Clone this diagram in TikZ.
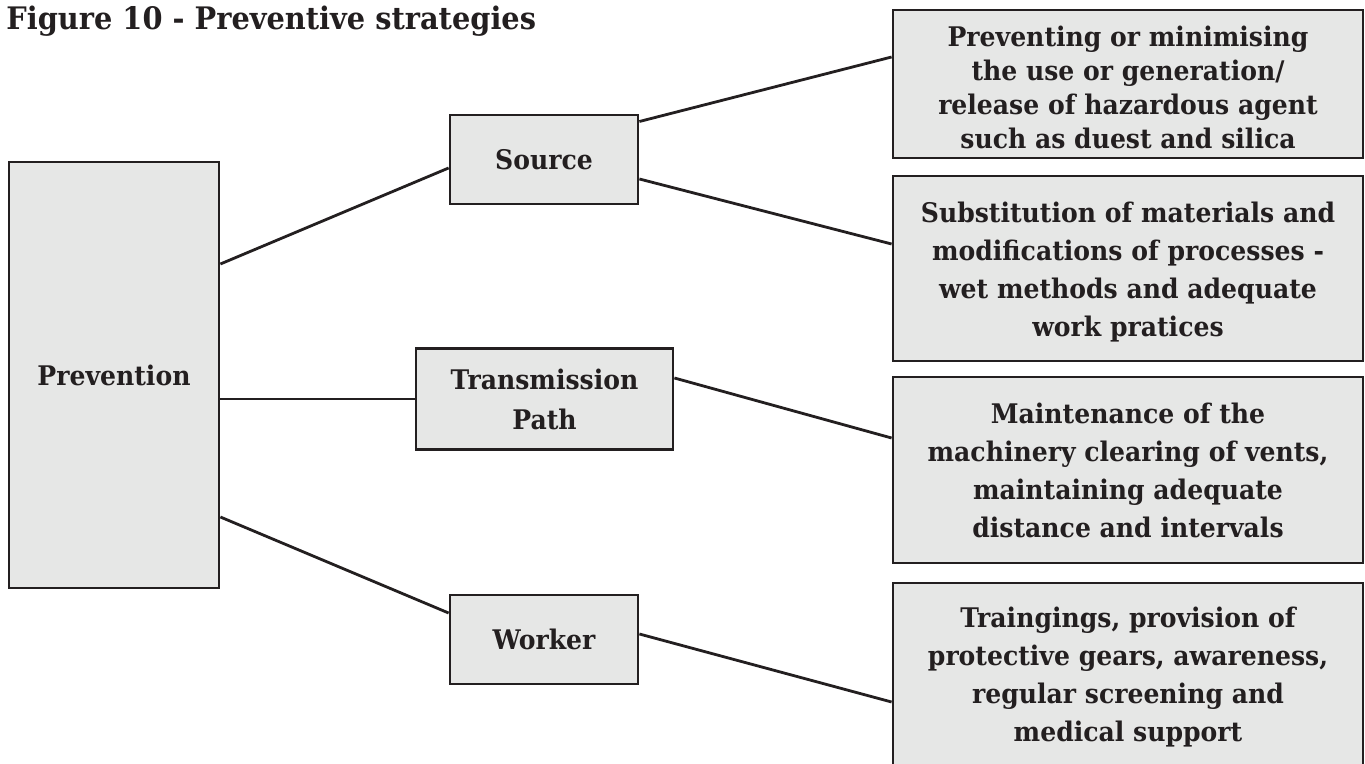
\documentclass[tikz,border=0pt]{standalone}
\usepackage{fontspec}
\setmainfont{DejaVu Serif}[FakeStretch=0.93]
\usetikzlibrary{positioning}
\definecolor{boxgray}{HTML}{E6E7E6}
\definecolor{inkdark}{HTML}{231F20}
\newcommand{\topgap}[1]{\rule{0pt}{#1}}
\tikzstyle{branch} = [rectangle, draw=inkdark, line width=1.4pt, fill=boxgray, text=inkdark, inner sep=0pt, align=center, font=\bfseries\fontsize{13.5}{20}\selectfont]
\tikzstyle{detail} = [branch, minimum width=235pt, minimum height=92.5pt, font=\bfseries\fontsize{13.5}{19}\selectfont]
\tikzstyle{link} = [draw=inkdark, line width=1.4pt]

\begin{document}
\begin{tikzpicture}[x=0.5pt, y=-0.5pt]
  \useasboundingbox (0,0) rectangle (1365,764);
  \clip (0,0) rectangle (1365,764);
  \node (title) [anchor=base west, inner sep=0pt, text=inkdark, font=\bfseries\fontsize{15.5}{18}\selectfont] at (6,30) {Figure 10 - Preventive strategies};

  % main branches
  \node (prevention) [branch, minimum width=105pt, minimum height=213pt] at (114,375) {Prevention};
  \node (source) [branch, minimum width=94pt, minimum height=44.5pt] at (544,159.5) {Source};
  \node (path) [branch, minimum width=128.5pt, minimum height=50.5pt] at (544.5,399) {Transmission\\Path};
  \node (worker) [branch, minimum width=94pt, minimum height=44.5pt] at (544,639.5) {Worker};

  % measures
  \node (minimise) [detail, minimum height=74pt, font=\bfseries\fontsize{13.5}{17}\selectfont] at (1128,84) {\topgap{14pt}Preventing or minimising\\the use or generation/\\release of hazardous agent\\such as duest and silica};
  \node (substitute) [detail] at (1128,268.5) {\topgap{13.5pt}Substitution of materials and\\modifications of processes -\\wet methods and adequate\\work pratices};
  \node (maintain) [detail, minimum height=93pt] at (1128,470) {\topgap{10.5pt}Maintenance of the\\machinery clearing of vents,\\maintaining adequate\\distance and intervals};
  \node (protect) [detail] at (1128,675.5) {\topgap{12pt}Traingings, provision of\\protective gears, awareness,\\regular screening and\\medical support};

  \draw [link] ([yshift=55.5pt]prevention.east) -- ([yshift=-4.25pt]source.west);
  \draw [link] (prevention.east |- path.west) -- (path.west);
  \draw [link] ([yshift=-71pt]prevention.east) -- ([yshift=13.25pt]worker.west);
  \draw [link] ([yshift=19pt]source.east) -- ([yshift=13.5pt]minimise.west);
  \draw [link] ([yshift=-9.75pt]source.east) -- ([yshift=12.25pt]substitute.west);
  \draw [link] ([yshift=10.5pt]path.east) -- ([yshift=16pt]maintain.west);
  \draw [link] ([yshift=2.75pt]worker.east) -- ([yshift=-13.25pt]protect.west);
\end{tikzpicture}
\end{document}
